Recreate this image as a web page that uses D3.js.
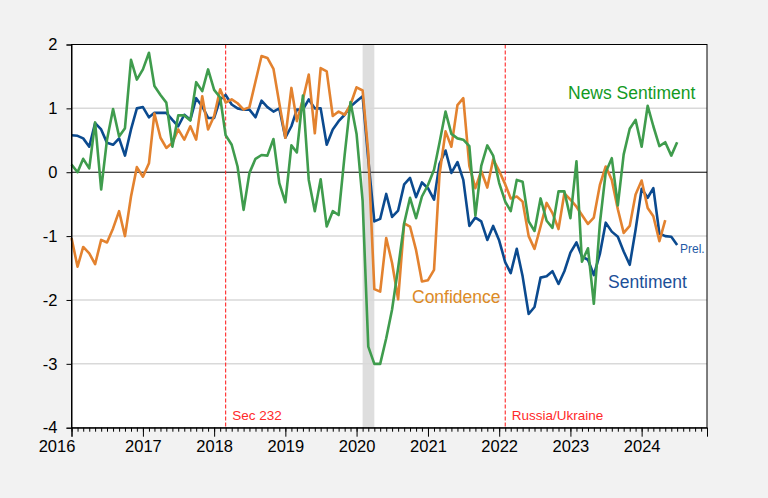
<!DOCTYPE html>
<html><head><meta charset="utf-8">
<script src="https://cdn.jsdelivr.net/npm/d3@7"></script>
<style>html,body{margin:0;padding:0;background:#f2f2f2;} svg{display:block;font-family:"Liberation Sans",Arial,sans-serif;}</style>
</head><body><svg id="c" width="768" height="498"></svg>
<script>
// ---- data (monthly, starting Jan 2016) ----
const startMonth = "2016-01";
const sentiment = [0.58,0.57,0.53,0.40,0.77,0.67,0.46,0.43,0.53,0.26,0.67,1.00,
  1.02,0.86,0.93,0.93,0.93,0.82,0.72,0.90,0.82,1.16,1.03,0.85,
  0.85,1.14,1.21,1.06,1.00,0.98,0.98,0.86,1.12,1.02,0.95,1.00,
  0.54,0.72,0.98,0.98,1.14,1.00,1.00,0.43,0.67,0.80,0.90,1.03,
  1.11,1.19,0.20,-0.77,-0.73,-0.34,-0.70,-0.60,-0.19,-0.09,-0.39,-0.16,
  -0.25,-0.43,0.13,0.34,-0.01,0.16,-0.12,-0.84,-0.71,-0.77,-1.06,-0.84,
  -1.07,-1.41,-1.58,-1.20,-1.63,-2.22,-2.11,-1.65,-1.63,-1.55,-1.75,-1.55,
  -1.26,-1.10,-1.32,-1.37,-1.61,-1.28,-0.79,-0.93,-1.01,-1.24,-1.45,-0.90,
  -0.26,-0.40,-0.25,-0.96,-1.00,-1.01,-1.14];
const confidence = [-1.03,-1.48,-1.17,-1.27,-1.44,-1.06,-1.10,-0.88,-0.61,-1.00,-0.38,0.08,
  -0.07,0.14,0.92,0.54,0.38,0.46,0.67,0.51,0.72,0.51,1.19,0.67,
  0.88,1.30,1.09,1.14,1.08,0.98,1.02,1.42,1.82,1.79,1.62,1.08,
  0.54,1.32,0.80,1.14,1.53,0.61,1.63,1.58,0.88,0.95,0.90,1.06,
  1.33,1.28,0.30,-1.83,-1.87,-1.03,-1.42,-1.99,-0.80,-0.85,-1.22,-1.71,
  -1.69,-1.53,-0.04,0.64,0.40,1.05,1.16,0.10,-0.25,0.02,-0.24,0.20,
  0.02,-0.19,-0.41,-0.38,-0.46,-1.00,-1.20,-0.85,-0.48,-0.64,-0.89,-0.33,
  -0.43,-0.54,-0.67,-0.81,-0.71,-0.20,0.09,-0.12,-0.58,-0.95,-0.84,-0.35,
  -0.13,-0.56,-0.69,-1.08,-0.75];
const newsSentiment = [0.12,0.00,0.21,0.06,0.78,-0.27,0.51,0.99,0.56,0.69,1.76,1.45,
  1.61,1.87,1.35,1.21,1.09,0.40,0.89,0.89,0.81,1.41,1.27,1.61,
  1.29,1.17,0.58,0.43,0.09,-0.59,-0.01,0.21,0.27,0.26,0.52,-0.17,
  -0.47,0.42,0.31,1.20,-0.12,-0.61,-0.11,-0.85,-0.61,-0.67,0.27,1.10,
  0.60,-0.45,-2.73,-3.00,-3.00,-2.60,-2.15,-1.50,-0.80,-0.40,-0.72,-0.38,
  -0.20,0.04,0.46,0.95,0.60,0.53,0.51,0.41,-0.68,0.10,0.42,0.26,
  -0.17,-0.46,-0.61,-0.12,-0.15,-0.77,-0.92,-0.41,-0.76,-0.87,-0.30,-0.30,
  -0.72,0.17,-1.40,-1.19,-2.06,-0.80,0.00,0.22,-0.52,0.28,0.68,0.82,
  0.40,1.04,0.72,0.41,0.47,0.26,0.47];
const yTicks = [-4,-3,-2,-1,0,1,2];
const yearTicks = [2016,2017,2018,2019,2020,2021,2022,2023,2024];
const eventDates = ["2018-03","2022-02"];
const eventLabels = ["Sec 232","Russia/Ukraine"];
const recession = ["2020-02","2020-04"];
const xDomain = ["2016-01","2024-12"];

// ---- chart ----
const parse = d3.timeParse("%Y-%m");
const start = parse(startMonth);
const toSeries = arr => arr.map((v,i)=>({date:d3.timeMonth.offset(start,i), v}));

const L=71.5, R=707, T=44.5, B=427.7;
const svg = d3.select("#c");
svg.append("rect").attr("width",768).attr("height",498).attr("fill","#f2f2f2");

const x = d3.scaleTime().domain(xDomain.map(parse)).range([L,R]);
const y = d3.scaleLinear().domain([-4,2]).range([B,T]);

svg.append("rect").attr("x",L).attr("y",T).attr("width",R-L).attr("height",B-T).attr("fill","#ffffff");

// recession shade
svg.append("rect").attr("x",x(parse(recession[0]))).attr("y",T)
  .attr("width",x(parse(recession[1]))-x(parse(recession[0]))).attr("height",B-T)
  .attr("fill","#dedede");

// gridlines
svg.append("g").selectAll("line").data(yTicks.filter(d=>d!==0 && d!==2 && d!==-4)).join("line")
  .attr("x1",L).attr("x2",R).attr("y1",d=>y(d)).attr("y2",d=>y(d))
  .attr("stroke","#d9d9d9").attr("stroke-width",1.5);
svg.append("line").attr("x1",L).attr("x2",R).attr("y1",y(0)).attr("y2",y(0))
  .attr("stroke","#000").attr("stroke-width",1);

// event lines
svg.append("g").selectAll("line").data(eventDates).join("line")
  .attr("x1",d=>x(parse(d))).attr("x2",d=>x(parse(d))).attr("y1",T).attr("y2",B)
  .attr("stroke","#ff2a2a").attr("stroke-width",1.1).attr("stroke-dasharray","4,2");

// series
const line = d3.line().x(d=>x(d.date)).y(d=>y(d.v));
const series = [
  {data:sentiment, color:"#0b4a8f"},
  {data:confidence, color:"#e3822f"},
  {data:newsSentiment, color:"#3f9c4d"}
];
series.forEach(s=>{
  svg.append("path").datum(toSeries(s.data)).attr("d",line)
    .attr("fill","none").attr("stroke",s.color).attr("stroke-width",2.6)
    .attr("stroke-linejoin","round");
});

// frame
svg.append("rect").attr("x",L).attr("y",T).attr("width",R-L).attr("height",B-T)
  .attr("fill","none").attr("stroke","#000").attr("stroke-width",1);

// y axis
const yAxis = d3.axisLeft(y).tickValues(yTicks).tickSize(5).tickPadding(9).tickFormat(d=>String(d));
const gy = svg.append("g").attr("transform",`translate(${L},0)`).call(yAxis);
gy.select(".domain").attr("stroke","#000");
gy.selectAll("text").attr("font-size","16.5px").attr("fill","#000").attr("font-family","Liberation Sans, Arial, sans-serif");

// x axis minor (monthly) + major (yearly)
const gxm = svg.append("g").attr("transform",`translate(0,${B})`)
  .call(d3.axisBottom(x).ticks(d3.timeMonth.every(1)).tickSize(4).tickFormat(""));
gxm.select(".domain").remove();
const gx = svg.append("g").attr("transform",`translate(0,${B})`)
  .call(d3.axisBottom(x).tickValues(yearTicks.map(yr=>new Date(yr,0,1))).tickSize(9).tickPadding(4).tickFormat(d3.timeFormat("%Y")));
gx.select(".domain").attr("stroke","#000");
gx.selectAll("text").attr("font-size","16.5px").attr("fill","#000").attr("font-family","Liberation Sans, Arial, sans-serif")
  .attr("dx",(d,i)=>i===0?-15:0);

// labels
const lab = (t,xx,yy,col,size)=>svg.append("text").attr("x",xx).attr("y",yy).attr("fill",col)
  .attr("font-size",size).text(t);
lab("News Sentiment",568,98.5,"#139a1f","17.5px");
lab("Sentiment",608,288,"#1c4f98","17.5px");
lab("Confidence",412,303,"#dc8a26","17.5px");
lab("Prel.",680,253,"#1f5aa6","12px");
eventDates.forEach((d,i)=>lab(eventLabels[i],x(parse(d))+6.5,419.5,"#ff2a2a","13.5px"));
</script></body></html>
